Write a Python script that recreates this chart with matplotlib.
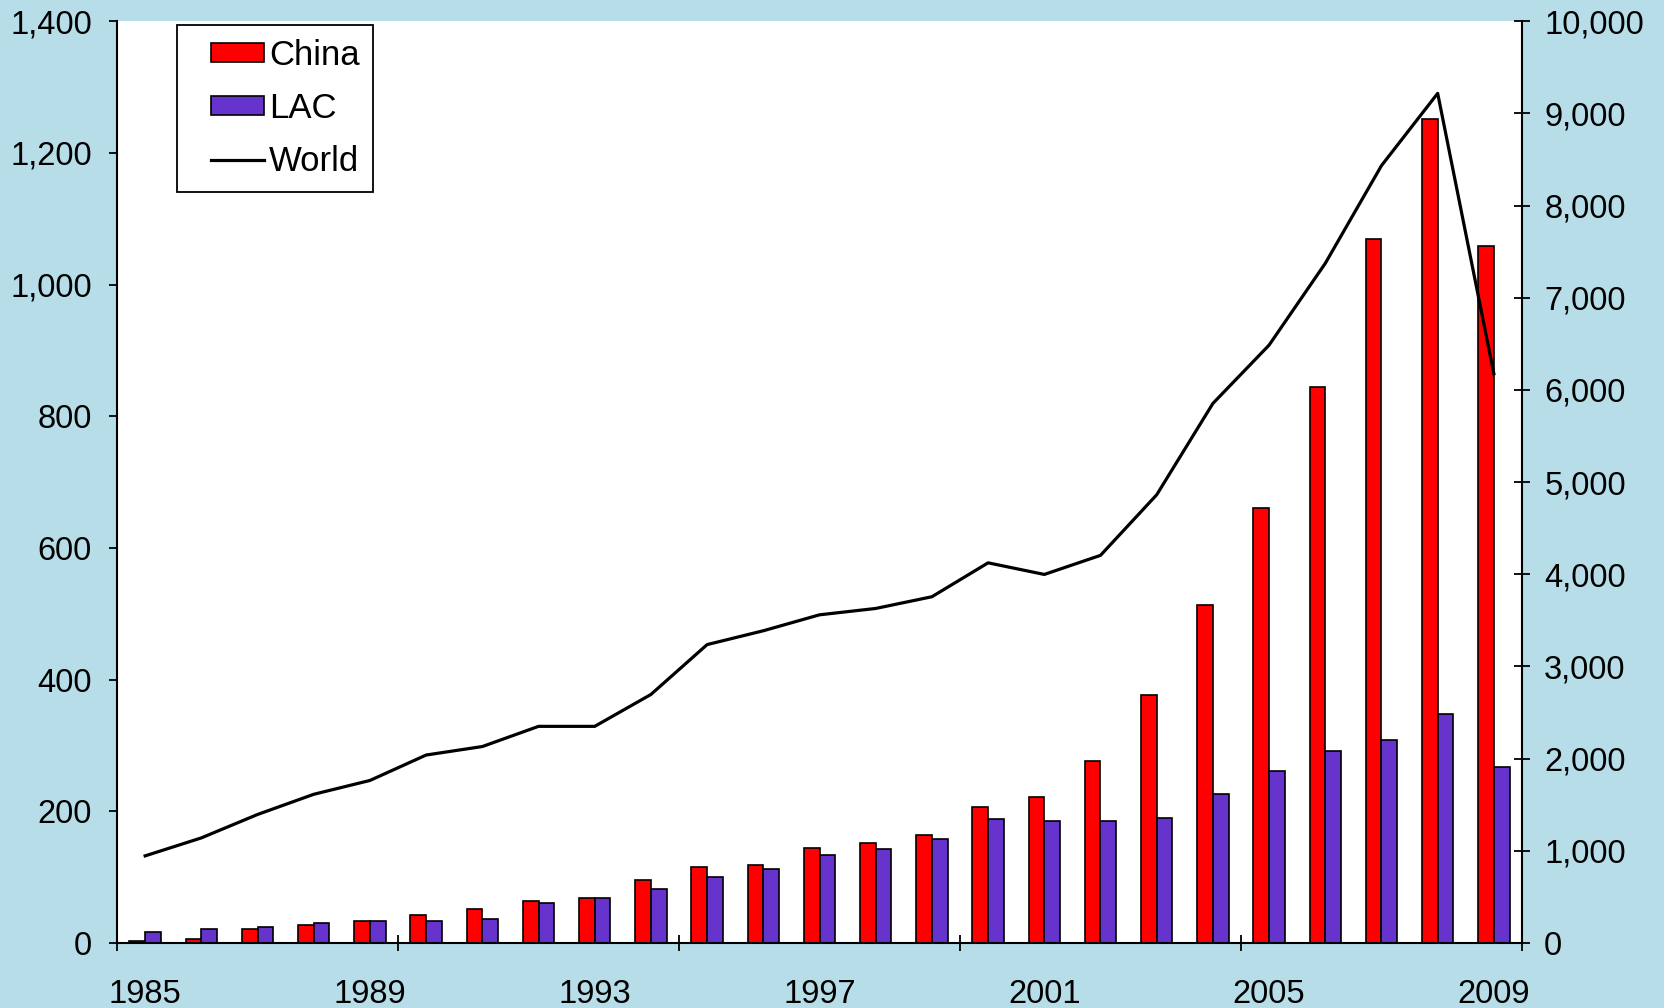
import numpy as np
import matplotlib
matplotlib.use("Agg")
import matplotlib.pyplot as plt
from matplotlib.ticker import FuncFormatter
from matplotlib.legend_handler import HandlerPatch, HandlerLine2D
from matplotlib.container import BarContainer
from matplotlib.lines import Line2D

plt.rcParams['font.family'] = ['Liberation Sans', 'DejaVu Sans']

# Data
years = list(range(1985, 2010))
china = [3, 6, 21, 27, 34, 43, 52, 64, 69, 95, 116, 119, 145, 152, 164,
         206, 222, 276, 376, 514, 661, 845, 1069, 1251, 1058]
lac = [16, 21, 24, 30, 34, 34, 37, 61, 69, 82, 100, 113, 134, 142, 158,
       189, 185, 185, 190, 227, 261, 292, 309, 348, 268]
world = [945, 1140, 1394, 1613, 1763, 2039, 2131, 2350, 2350, 2696, 3237,
         3387, 3560, 3629, 3756, 4124, 3998, 4205, 4862, 5853, 6486, 7373,
         8433, 9217, 6175]
year_labels = ['1985', '1989', '1993', '1997', '2001', '2005', '2009']

bg = '#B7DDE8'
red = '#FF0000'
purple = '#6633CC'
fs = 23.5

fig = plt.figure(figsize=(16.65, 10.08), dpi=100, facecolor=bg)
ax = fig.add_axes([0.0703, 0.0645, 0.9141 - 0.0703, 0.979 - 0.0645])
ax.set_facecolor('white')

x = np.arange(len(years))
w = 0.28
ax.bar(x - w / 2, china, w, color=red, edgecolor='black', linewidth=1.2,
       label='China', zorder=2)
ax.bar(x + w / 2, lac, w, color=purple, edgecolor='black', linewidth=1.2,
       label='LAC', zorder=2)

ax.set_xlim(-0.5, len(years) - 0.5)
ax.set_ylim(0, 1400)
ax.set_yticks(np.arange(0, 1401, 200))
ax.yaxis.set_major_formatter(FuncFormatter(lambda v, p: '{:,.0f}'.format(v)))

# category boundary ticks every 5, year labels every 4 categories
ax.set_xticks(np.arange(-0.5, len(years), 5))
ax.set_xticklabels([])
ax.set_xticks(np.arange(0, len(years), 4), minor=True)
ax.set_xticklabels(year_labels, minor=True)
ax.tick_params(axis='x', which='major', direction='inout', length=12,
               width=1.3, color='black')
ax.tick_params(axis='x', which='minor', length=0, pad=26, labelsize=fs)
ax.tick_params(axis='y', direction='out', length=6, width=1.3, pad=12,
               labelsize=fs)

for s in ['left', 'bottom']:
    ax.spines[s].set_linewidth(1.5)
ax.spines['top'].set_visible(False)
ax.spines['right'].set_visible(False)

ax2 = ax.twinx()
ax2.plot(x, world, color='black', linewidth=2.3, label='World', zorder=3)
ax2.set_ylim(0, 10000)
ax2.set_yticks(np.arange(0, 10001, 1000))
ax2.yaxis.set_major_formatter(FuncFormatter(lambda v, p: '{:,.0f}'.format(v)))
ax2.tick_params(axis='y', direction='inout', length=12, width=1.3, pad=10,
                labelsize=fs)
ax2.spines['right'].set_linewidth(1.5)
ax2.spines['top'].set_visible(False)
ax2.spines['left'].set_visible(False)
ax2.spines['bottom'].set_visible(False)

h1, l1 = ax.get_legend_handles_labels()
h2, l2 = ax2.get_legend_handles_labels()
# shift the legend keys right, as in the original
first_child = lambda legend_handle, orig: legend_handle.update_from(orig[0])
hmap = {BarContainer: HandlerPatch(xpad=0.58, update_func=first_child),
        Line2D: HandlerLine2D(xpad=0.58)}
leg = ax2.legend(h1 + h2, l1 + l2, loc='upper left',
                 bbox_to_anchor=(0.043, 0.996), fontsize=25,
                 frameon=True, fancybox=False, framealpha=1,
                 edgecolor='black', handlelength=2.08, handleheight=0.48,
                 handletextpad=0.15, labelspacing=0.58, borderpad=0.4,
                 borderaxespad=0, handler_map=hmap)
leg.get_frame().set_linewidth(1.3)

fig.savefig('out.png', dpi=100, facecolor=bg)
